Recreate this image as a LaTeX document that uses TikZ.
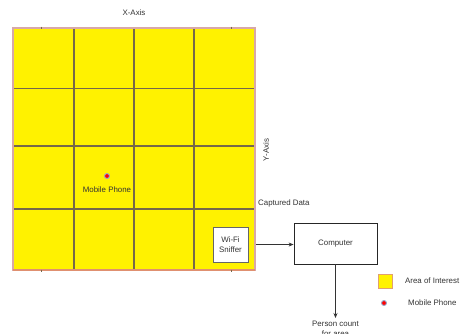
\documentclass[tikz,border=0pt]{standalone}
\usepackage{fontspec}
\setmainfont{Liberation Sans}
\usetikzlibrary{arrows.meta}
\definecolor{aoi}{HTML}{FFF200}
\definecolor{gridline}{HTML}{76684A}
\definecolor{border}{HTML}{D8A8A8}
\definecolor{botborder}{HTML}{E09070}
\definecolor{txt}{HTML}{333333}
\definecolor{legborder}{HTML}{E0A070}
\definecolor{halo}{HTML}{9AA6C8}
\tikzset{
  lbl/.style={font=\fontsize{7.9}{10}\selectfont, text=txt, inner sep=0pt},
  boxnode/.style={draw=#1, fill=white, line width=0.8pt, lbl, align=center},
  conn/.style={draw=black!80, line width=0.7pt, -{Stealth[length=5pt,width=4pt]}},
  phone/.style={circle, fill=red, draw=halo, line width=0.9pt, minimum size=5pt, inner sep=0pt},
}
\begin{document}
\begin{tikzpicture}[x=1pt,y=-1pt]
\useasboundingbox (0,0) rectangle (460,333);
% area of interest grid
\fill[aoi] (13,28) rectangle (255,270);
\foreach \x in {74,134,194} \draw[gridline, line width=1.1pt] (\x,28) -- (\x,270);
\foreach \y in {88.5,146,209} \draw[gridline, line width=1.1pt] (13,\y) -- (255,\y);
\draw[border, line width=1.1pt] (13,28) rectangle (255,270);
\draw[botborder, line width=1.1pt] (13,270) -- (255,270);
\foreach \x in {41,231} {
  \draw[gridline, line width=0.6pt] (\x,26.5) -- (\x,28.5);
  \draw[gridline, line width=0.6pt] (\x,269.5) -- (\x,271.5);
}
% labels
\node[lbl] (xaxis) at (134,13) {X-Axis};
\node[lbl, rotate=90] (yaxis) at (266,150) {Y-Axis};
\node[phone] (mp) at (107,176) {};
\node[lbl] (mplabel) at (107,190) {Mobile Phone};
\node[lbl, anchor=west] (captured) at (258,203) {Captured Data};
% boxes
\node[boxnode=black!60, minimum width=35pt, minimum height=35pt] (sniffer) at (230.5,244.5) {Wi-Fi\\Sniffer};
\node[boxnode=black!85, minimum width=83pt, minimum height=41pt] (computer) at (335.5,243.5) {Computer};
\node[lbl, align=center, anchor=north] (count) at (335.5,321) {Person count\\for area};
% connectors
\draw[conn, shorten <=8pt] (sniffer.east) -- (sniffer.east -| computer.west);
\draw[conn, shorten >=3pt] (computer.south) -- (count.north);
% legend
\node[draw=legborder, fill=aoi, line width=1pt, minimum size=14pt, inner sep=0pt] (legsq) at (385,281) {};
\node[lbl, anchor=west] (legaoi) at (405,281) {Area of Interest};
\node[phone] (legmp) at (384,303) {};
\node[lbl, anchor=west] (legmpl) at (408,303) {Mobile Phone};
\end{tikzpicture}
\end{document}
